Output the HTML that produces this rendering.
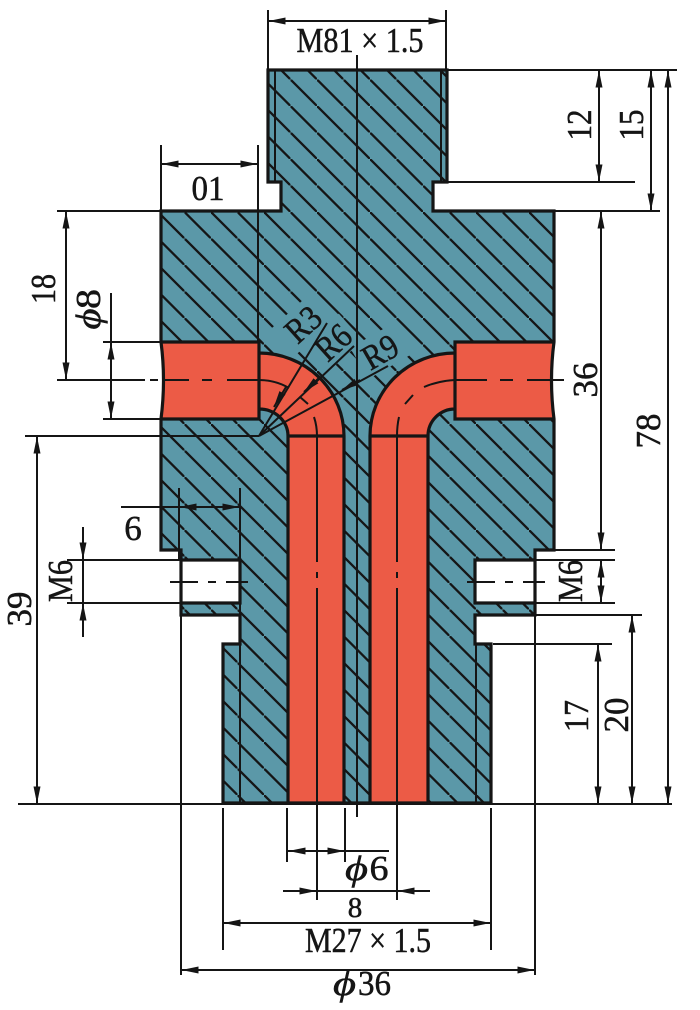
<!DOCTYPE html>
<html><head><meta charset="utf-8"><style>
html,body{margin:0;padding:0;background:#fff}
svg{display:block}
text{font-family:"Liberation Serif","DejaVu Serif",serif;font-size:35px;fill:#151515;text-anchor:middle;stroke:#151515;stroke-width:.5}
.d{fill:none;stroke:#151515;stroke-width:2}
.a{marker-end:url(#ar)}
.b{marker-start:url(#ar);marker-end:url(#ar)}
.o{fill:none;stroke:#151515;stroke-width:3.2}
</style></head><body>
<svg width="700" height="1010" viewBox="0 0 700 1010" xmlns="http://www.w3.org/2000/svg">
<defs>
<pattern id="h" width="26.5" height="26.5" patternUnits="userSpaceOnUse" patternTransform="translate(25.5,0)">
<rect width="26.5" height="26.5" fill="#5b98a8"/>
<path d="M-2,-2L28.5,28.5" stroke="#151515" stroke-width="2.3"/>
</pattern>
<marker id="ar" viewBox="0 0 17 7" refX="16.5" refY="3.5" markerWidth="17" markerHeight="7" markerUnits="userSpaceOnUse" orient="auto-start-reverse"><path d="M0,0L17,3.5L0,7Z" fill="#151515"/></marker>
</defs>

<!-- body -->
<path d="M268,70H447V182H433V211H554V342Q549,380 554,419V550H535V615H475V644H491V803H223V644H240V615H181V550H161V419Q166,380 161,342V211H281V182H268Z" fill="url(#h)"/>
<!-- clear hatch behind radius labels -->
<rect x="-24" y="-30" width="48" height="36" transform="translate(309,335) rotate(-42)" fill="#5b98a8"/>
<rect x="-24" y="-30" width="48" height="36" transform="translate(341,352) rotate(-42)" fill="#5b98a8"/>
<rect x="-24" y="-30" width="48" height="36" transform="translate(386,362) rotate(-30)" fill="#5b98a8"/>
<!-- holes -->
<rect x="181" y="560" width="59" height="43" fill="#fff"/>
<rect x="475" y="560" width="60" height="43" fill="#fff"/>
<!-- red -->
<path d="M161,342H259V353A85,83 0 0 1 344,436V803H288V436A29,27 0 0 0 259,409V419H161Q166,380 161,342Z" fill="#ec5b46"/>
<path d="M553,342H455V353A85,83 0 0 0 370,436V803H428V436A27,27 0 0 1 455,409V419H553Q548,380 553,342Z" fill="#ec5b46"/>
<!-- outlines -->
<path class="o" d="M268,182V70H447V182H433V211H554V342Q549,380 554,419V550H535V615H475V644H491V803H223V644H240V615H181V550H161V419Q166,380 161,342V211H281V182Z"/>
<path class="o" d="M181,560H240V603H181M535,560H475V603H535"/>
<path class="o" d="M161,342H259V419H161M259,353A85,83 0 0 1 344,436V803M288,803V436A29,27 0 0 0 259,409M288,436H344"/>
<path class="o" d="M553,342H455V419H553M455,353A85,83 0 0 0 370,436V803M428,803V436A27,27 0 0 1 455,409M370,436H428"/>
<!-- thread lines -->
<path class="d" d="M275,70V182M441,70V182M240,603V803M476,644V803"/>
<!-- center lines -->
<path class="d" d="M357,55V817"/>
<path class="d" d="M57,380H145M150,380H158M165,380H189M202,380H212M227,380H259A58,56 0 0 1 289,388M300,397L308,404M314,417Q317,426 317,436V562M317,572V578M317,588V900"/>
<path class="d" d="M564,380H527M513,380H500M487,380H455Q438,381 424,387M413,395L405,404M399,417Q397,426 397,436V562M397,572V578M397,588V900"/>
<path class="d" d="M170,582H198M208,582H216M226,582H248M467,582H495M505,582H513M523,582H545"/>
<!-- ext lines -->
<path class="d" d="M268,10V70M446,10V70M161,145V211M258,145V342M447,70H677M433,182H635M554,211H660M57,211H161M103,342H161M103,419H161M25,436H259M18,804H672M67,560H181M67,603H181M535,550H615M535,560H615M535,603H615M535,615H642M493,644H612M179,488V560M240,488V615M181,615V975M535,615V975M287,808V862M345,808V862M223,808V950M491,808V950"/>
<!-- dims -->
<path class="d b" d="M269,21H445"/>
<path class="d b" d="M162,164H257"/>
<path class="d b" d="M599,71V181"/>
<path class="d b" d="M651,71V210"/>
<path class="d b" d="M668,71V803"/>
<path class="d b" d="M601,212V549"/>
<path class="d b" d="M66,212V379"/>
<path class="d b" d="M37,437V803"/>
<path class="d b" d="M632,616V803"/>
<path class="d b" d="M598,645V803"/>
<path class="d a" d="M111,293V418"/>
<path class="d a" d="M111,400V343"/>
<path class="d" d="M121,507H240"/>
<path class="d a" d="M210,507H180"/>
<path class="d a" d="M205,507H239"/>
<path class="d" d="M83,560V603"/>
<path class="d a" d="M83,527V559"/>
<path class="d a" d="M83,637V604"/>
<path class="d b" d="M601,561V602"/>
<path class="d" d="M288,851H389"/>
<path class="d a" d="M315,851H289"/>
<path class="d a" d="M320,851H344"/>
<path class="d" d="M317,891H397"/>
<path class="d a" d="M283,891H316"/>
<path class="d a" d="M430,891H398"/>
<path class="d b" d="M224,923H490"/>
<path class="d b" d="M182,970H534"/>
<!-- radii -->
<path class="d" d="M259,436L327,323"/>
<path class="d" d="M259,436L354,346"/>
<path class="d" d="M259,436L388,366"/>
<path class="d a" d="M286,387L274,407"/>
<path class="d a" d="M320,377L304,392"/>
<path class="d a" d="M360,380L342,390"/>
<path class="d" d="M259,409A29,27 0 0 1 288,436"/>
<!-- text -->
<text x="360" y="52" textLength="127" lengthAdjust="spacingAndGlyphs">M81 × 1.5</text>
<text x="208" y="200" textLength="33" lengthAdjust="spacingAndGlyphs">01</text>
<text x="133" y="540">6</text>
<text x="355" y="917" style="font-size:29px">8</text>
<text x="368" y="952" textLength="126" lengthAdjust="spacingAndGlyphs">M27 × 1.5</text>
<text x="356.5" y="880" font-style="italic" textLength="23" lengthAdjust="spacingAndGlyphs">ϕ</text>
<text x="379" y="880" textLength="19" lengthAdjust="spacingAndGlyphs">6</text>
<text x="344.5" y="995" font-style="italic" textLength="23" lengthAdjust="spacingAndGlyphs">ϕ</text>
<text x="374.5" y="995" textLength="33" lengthAdjust="spacingAndGlyphs">36</text>
<text transform="translate(591,125) rotate(-90)" textLength="31" lengthAdjust="spacingAndGlyphs">12</text>
<text transform="translate(643,125) rotate(-90)" textLength="31" lengthAdjust="spacingAndGlyphs">15</text>
<text transform="translate(660,431) rotate(-90)">78</text>
<text transform="translate(597,380) rotate(-90)">36</text>
<text transform="translate(588,716) rotate(-90)" textLength="32" lengthAdjust="spacingAndGlyphs">17</text>
<text transform="translate(628,715) rotate(-90)">20</text>
<text transform="translate(55,289) rotate(-90)" textLength="30" lengthAdjust="spacingAndGlyphs">18</text>
<text transform="translate(100,319) rotate(-90)" font-style="italic" textLength="21" lengthAdjust="spacingAndGlyphs">ϕ</text>
<text transform="translate(100,299) rotate(-90)" textLength="20" lengthAdjust="spacingAndGlyphs">8</text>
<text transform="translate(31,609) rotate(-90)">39</text>
<text transform="translate(72,581) rotate(-90)" textLength="42" lengthAdjust="spacingAndGlyphs">M6</text>
<text transform="translate(582,581) rotate(-90)" textLength="42" lengthAdjust="spacingAndGlyphs">M6</text>
<text transform="translate(311,333) rotate(-42)" textLength="36" lengthAdjust="spacingAndGlyphs">R3</text>
<text transform="translate(341,351) rotate(-42)" textLength="36" lengthAdjust="spacingAndGlyphs">R6</text>
<text transform="translate(386,362) rotate(-30)" textLength="36" lengthAdjust="spacingAndGlyphs">R9</text>
</svg>
</body></html>
